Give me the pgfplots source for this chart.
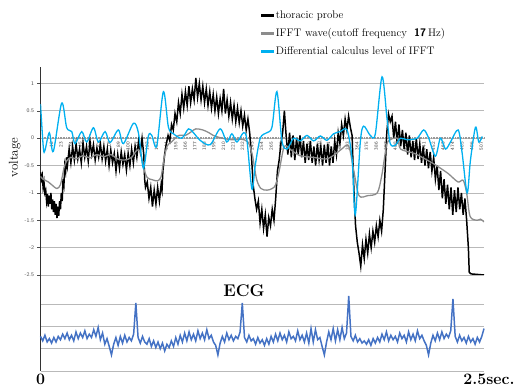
\documentclass[border=0pt]{standalone}
\usepackage{pgfplots}
\pgfplotsset{compat=1.18}
\definecolor{cyanline}{RGB}{0,176,240}
\definecolor{grayline}{RGB}{140,140,140}
\definecolor{gridgray}{RGB}{185,185,185}
\definecolor{ecgblue}{RGB}{68,114,196}
\begin{document}
\begin{tikzpicture}
\path[use as bounding box] (0,0) rectangle (515bp,389bp);
\begin{axis}[
  at={(40.5bp,114bp)}, anchor=south west,
  scale only axis, width=443.5bp, height=208bp,
  xmin=1, xmax=512, ymin=-2.5, ymax=1.3,
  axis x line=middle, axis y line=left,
  axis line style={-},
  x axis line style={black!40, line width=2pt, dash pattern=on 0.8pt off 0.8pt},
  y axis line style={black!80, line width=0.6pt},
  xtick={1,12,...,507},
  ytick={-2.5,-2,...,1},
  ymajorgrids, grid style={gridgray, line width=0.6pt},
  major tick length=3bp,
  xtick style={draw=none},
  ytick style={black!70, line width=0.5pt},
  tick align=outside,
  /pgf/number format/assume math mode=true,
  /pgf/number format/1000 sep={},
  yticklabel style={font=\sffamily\fontsize{5.5}{6}\selectfont, text=black!70},
  xticklabel style={font=\sffamily\fontsize{5}{5.5}\selectfont, text=black!75, rotate=90, anchor=east, inner sep=1pt, yshift=-1.5bp},
  ylabel={voltage},
  ylabel style={at={(axis description cs:-0.058,0.565)}, anchor=center, font=\fontsize{13}{14}\selectfont},
  legend style={at={(axis description cs:0.491,1.29)}, anchor=north west, draw=none, fill=none, font=\fontsize{11}{13}\selectfont, row sep=4.5bp},
  legend cell align=left,
]
\addlegendimage{legend image code/.code={\fill[black] (0bp,-0.8bp) rectangle (12bp,0.8bp);}}
\addlegendentry{thoracic probe}
\addlegendimage{legend image code/.code={\fill[grayline] (0bp,-0.8bp) rectangle (12bp,0.8bp);}}
\addlegendentry{IFFT wave(cutoff frequency\ \ \textsf{\textbf{17}}\,Hz)}
\addlegendimage{legend image code/.code={\fill[cyanline] (0bp,-0.8bp) rectangle (12bp,0.8bp);}}
\addlegendentry{Differential calculus level of IFFT}
\addplot[black, line width=1.5pt, forget plot] coordinates {
(1,-0.62)(2,-0.75)(3,-0.68)(4,-0.9)(5,-0.8)(6,-1.0)(7,-0.95)(8,-1.15)(9,-1.02)(10,-1.25)(11,-1.05)(12,-1.2)(13,-1.0)(14,-1.3)(15,-1.12)(16,-1.35)(17,-1.15)(18,-1.4)(19,-1.2)(20,-1.46)(21,-1.25)(22,-1.42)(23,-1.15)(24,-1.3)(25,-1.0)(26,-1.15)(27,-0.75)(28,-0.85)(29,-0.5)(30,-0.6)(31,-0.35)(32,-0.5)
(34,-0.2)(36,-0.45)(38,-0.15)(40,-0.4)(42,-0.1)(44,-0.38)(46,-0.2)(48,-0.45)(50,-0.08)(52,-0.35)(54,-0.15)(56,-0.42)(58,-0.05)(60,-0.3)(62,-0.12)(64,-0.4)(66,-0.18)(68,-0.35)(70,-0.1)(72,-0.38)(74,-0.15)(76,-0.42)(78,-0.2)(80,-0.5)(82,-0.22)(84,-0.45)(86,-0.28)(88,-0.6)(90,-0.3)(92,-0.55)(94,-0.25)(96,-0.48)(98,-0.3)(100,-0.58)(102,-0.28)(104,-0.5)(106,-0.2)(108,-0.45)(110,-0.15)(112,-0.35)(114,-0.05)(116,-0.25)(118,0.0)
(120,-0.3)(121,-0.75)(122,-0.9)(124,-0.8)(126,-1.1)(128,-0.9)(130,-1.25)(132,-0.95)(134,-1.2)(136,-0.9)(138,-1.15)(140,-0.85)(141,-0.95)(142,-0.6)(144,-0.3)(146,-0.1)(148,0.05)(150,-0.05)(152,0.25)(154,0.15)(156,0.45)(158,0.3)(160,0.65)(162,0.45)(164,0.8)(166,0.55)(168,0.85)(170,0.6)(172,0.95)(174,0.65)(176,0.9)(178,0.7)(180,1.1)(182,0.75)(184,1.0)
(186,0.7)(188,0.95)(190,0.65)(192,0.9)(194,0.6)(196,0.85)(198,0.55)(200,0.8)(202,0.5)(204,0.75)(206,0.45)(208,0.72)(210,0.5)(212,0.9)(214,0.45)(216,0.7)(218,0.4)(220,0.65)(222,0.35)(224,0.6)(226,0.3)(228,0.55)(230,0.28)(232,0.5)(234,0.22)(236,0.42)(238,0.15)(240,0.35)(242,0.1)
(244,-0.3)(246,-0.85)(248,-1.1)(250,-1.3)(252,-1.15)(254,-1.55)(256,-1.3)(258,-1.65)(260,-1.4)(262,-1.8)(264,-1.45)(266,-1.6)(268,-1.3)(270,-1.5)(272,-1.1)(274,-0.6)(276,-0.4)(278,-0.1)(280,0.1)(282,0.5)(284,0.05)
(286,-0.3)(288,0.1)(290,-0.35)(292,0.05)(294,-0.4)(296,0.0)(298,-0.3)(300,0.05)(302,-0.35)(304,-0.05)(306,-0.45)(308,-0.1)(310,-0.4)(312,-0.05)(314,-0.45)(316,-0.15)(318,-0.5)(320,-0.1)(322,-0.4)(324,-0.15)(326,-0.5)(328,-0.12)(330,-0.45)(332,-0.1)(334,-0.5)(336,-0.15)(338,-0.45)(340,-0.05)(342,-0.3)(344,0.1)(346,-0.1)(348,0.25)(350,0.05)(352,0.35)(354,0.15)(356,0.4)(358,0.2)(360,0.05)
(362,-0.9)(364,-1.6)(366,-1.9)(368,-2.1)(370,-2.34)(372,-1.95)(374,-2.2)(376,-1.85)(378,-2.1)(380,-1.75)(382,-2.0)(384,-1.7)(386,-1.9)(388,-1.6)(390,-1.8)(392,-1.5)(394,-1.7)(396,-1.3)(398,-0.6)(400,0.1)(402,0.44)(404,0.3)
(406,0.4)(408,0.0)(410,0.3)(412,-0.1)(414,0.25)(416,-0.15)(418,0.15)(420,-0.2)(422,0.1)(424,-0.3)(426,0.05)(428,-0.35)(430,-0.05)(432,-0.4)(434,0.0)(436,-0.38)(438,-0.1)(440,-0.45)(442,-0.15)(444,-0.5)(446,-0.2)(448,-0.55)(450,-0.25)(452,-0.6)(454,-0.35)
(456,-0.75)(458,-0.5)(460,-0.95)(462,-0.6)(464,-1.1)(466,-0.75)(468,-1.2)(470,-0.85)(472,-1.3)(474,-0.9)(476,-1.4)(478,-0.95)(480,-1.35)(482,-0.9)(484,-1.3)(486,-1.0)(488,-1.4)(490,-1.1)(492,-1.5)(494,-2.0)(495,-2.45)(497,-2.48)(512,-2.5)
};
\addplot[grayline, line width=1.3pt, smooth, forget plot] coordinates {
(1,-0.7)(4,-0.75)(10,-0.8)(16,-0.88)(20,-0.92)(24,-0.85)(28,-0.55)(31,-0.42)(36,-0.35)(42,-0.38)(50,-0.32)(58,-0.36)(66,-0.3)(74,-0.34)(82,-0.3)(90,-0.38)(98,-0.4)(106,-0.35)(112,-0.22)(116,-0.25)(120,-0.55)(124,-0.72)(130,-0.76)(136,-0.78)(140,-0.7)(143,-0.4)(147,-0.14)(152,-0.07)(160,0.05)(168,0.05)(175,0.12)(180,0.17)(188,0.15)(195,0.1)(200,0.05)(210,0.0)(222,-0.03)(232,-0.02)(240,-0.07)(245,-0.3)(250,-0.75)(255,-0.92)(262,-0.95)(268,-0.92)(272,-0.85)(276,-0.6)(282,-0.15)(290,-0.22)(300,-0.32)(315,-0.35)(330,-0.38)(340,-0.3)(348,-0.2)(356,-0.14)(362,-0.6)(368,-1.05)(378,-1.05)(389,-1.0)(394,-0.7)(397,-0.4)(401,-0.07)(412,0.0)(416,-0.2)(432,-0.28)(451,-0.44)(460,-0.53)(471,-0.65)(482,-0.8)(488,-0.77)(492,-1.0)(496,-1.43)(504,-1.5)(508,-1.48)(512,-1.53)
};
\addplot[cyanline, line width=1.3pt, smooth, forget plot] coordinates {
(1,0.62)(4.3,-0.18)(6.2,-0.22)(11.2,0.1)(15.8,-0.24)(25.4,0.64)(31.2,0.19)(37,0.12)(40.8,-0.1)(48.5,0.12)(54.3,-0.07)(62,0.19)(67.7,-0.07)(75.4,0.12)(81.2,-0.08)(90.7,0.15)(96.5,-0.1)(108,0.27)(113.8,0.1)(119.6,-0.55)(125.3,0.04)(129.2,0.05)(135,-0.14)(142.6,0.85)(148.4,0.2)(154.2,0.08)(163.8,0.0)(171.5,0.17)(177.2,0.1)(185,-0.04)(196.5,-0.12)(208,0.17)(215.7,-0.07)(221.5,0.08)(227.3,-0.07)(234.9,0.1)(238.8,-0.03)(244.6,-0.93)(248.4,-0.5)(254.2,0.0)(261.9,0.1)(267.7,0.2)(273.4,0.85)(279.2,-0.05)(285,-0.2)(292.6,0.0)(300.3,-0.05)(308,0.05)(315.7,-0.05)(323.4,0.04)(331,-0.04)(338.7,0.08)(346.4,0.12)(354.2,0.15)(360,-0.38)(363.7,-1.4)(369.5,-0.07)(373.3,0.22)(381,0.05)(386.8,0.08)(394.5,1.12)(400.3,0.35)(404,-0.1)(409.9,-0.13)(415.7,0.0)(423.4,-0.03)(434.9,0.0)(442.5,0.15)(448.3,0.0)(456,-0.33)(461.8,0.0)(467.6,-0.2)(473.4,-0.07)(482.2,0.15)(486.8,-0.27)(492.6,-1.0)(496.4,-0.4)(502.2,0.2)(506,-0.07)(509.9,0.03)
};
\end{axis}
\begin{axis}[
  at={(40.5bp,18bp)}, anchor=south west,
  scale only axis, width=443.5bp, height=96bp,
  xmin=0, xmax=2.5, ymin=0, ymax=4.3,
  axis x line*=bottom, axis y line*=left,
  axis line style={-},
  x axis line style={draw=none},
  y axis line style={black!80, line width=0.6pt},
  ytick={0,1,2,3}, yticklabels={},
  ymajorgrids, grid style={gridgray, line width=0.6pt},
  xtick={0}, xticklabels={0},
  extra x ticks={2.5}, extra x tick labels={2.5sec.},
  extra x tick style={xticklabel style={xshift=5bp}},
  tick style={draw=none},
  xticklabel style={font=\bfseries\fontsize{16}{18}\selectfont},
  clip=false,
]
\addplot[ecgblue, line width=1.5pt] coordinates {
(0,1.55)(0.0125,1.35)(0.025,1.6)(0.0375,1.3)(0.05,1.45)(0.0625,1.25)(0.075,1.5)(0.0875,1.3)(0.1,1.55)(0.1125,1.4)(0.125,1.65)(0.1375,1.45)(0.15,1.7)(0.1625,1.4)(0.175,1.6)(0.1875,1.35)(0.2,1.75)(0.2125,1.45)(0.225,1.7)(0.2375,1.5)(0.25,1.8)(0.2625,1.45)(0.275,1.65)(0.2875,1.5)(0.3,1.85)(0.3125,1.55)(0.325,1.95)(0.3375,1.4)(0.35,1.7)(0.3625,1.2)(0.375,1.45)(0.3875,1.1)(0.4,0.72)(0.4125,1.2)(0.425,1.5)(0.4375,1.15)(0.45,1.55)(0.4625,1.25)(0.475,1.6)(0.4875,1.3)(0.5,1.5)(0.5125,1.35)(0.525,1.65)(0.5375,3.05)(0.55,1.5)(0.5625,1.25)(0.575,1.55)(0.5875,1.3)(0.6,1.2)(0.6125,1.45)(0.625,1.1)(0.6375,1.35)(0.65,1.05)(0.6625,1.3)(0.675,1.0)(0.6875,1.25)(0.7,0.9)(0.7125,1.2)(0.725,1.05)(0.7375,1.35)(0.75,1.1)(0.7625,1.5)(0.775,1.2)(0.7875,1.6)(0.8,1.3)(0.8125,1.7)(0.825,1.35)(0.8375,1.75)(0.85,1.4)(0.8625,1.65)(0.875,1.35)(0.8875,1.8)(0.9,1.45)(0.9125,1.7)(0.925,1.4)(0.9375,1.85)(0.95,1.45)(0.9625,1.6)(0.975,1.3)(0.9875,1.15)(1.0,0.72)(1.0125,1.25)(1.025,1.55)(1.0375,1.3)(1.05,1.7)(1.0625,1.4)(1.075,1.6)(1.0875,1.35)(1.1,1.55)(1.1125,1.45)(1.125,1.75)(1.1375,3.05)(1.15,1.5)(1.1625,1.3)(1.175,1.6)(1.1875,1.35)(1.2,1.45)(1.2125,1.2)(1.225,1.5)(1.2375,1.25)(1.25,1.4)(1.2625,1.15)(1.275,1.45)(1.2875,1.2)(1.3,1.55)(1.3125,1.3)(1.325,1.65)(1.3375,1.35)(1.35,1.7)(1.3625,1.4)(1.375,1.6)(1.3875,1.3)(1.4,1.75)(1.4125,1.45)(1.425,1.55)(1.4375,1.35)(1.45,1.8)(1.4625,1.4)(1.475,1.6)(1.4875,1.3)(1.5,1.7)(1.5125,1.25)(1.525,1.9)(1.5375,1.3)(1.55,1.85)(1.5625,1.4)(1.575,1.5)(1.5875,1.1)(1.6,0.72)(1.6125,1.3)(1.625,1.75)(1.6375,1.4)(1.65,1.9)(1.6625,1.35)(1.675,1.85)(1.6875,1.4)(1.7,1.95)(1.7125,1.45)(1.725,1.7)(1.7375,3.36)(1.75,1.55)(1.7625,1.35)(1.775,1.6)(1.7875,1.3)(1.8,1.45)(1.8125,1.25)(1.825,1.35)(1.8375,1.2)(1.85,1.4)(1.8625,1.15)(1.875,1.45)(1.8875,1.25)(1.9,1.5)(1.9125,1.3)(1.925,1.65)(1.9375,1.4)(1.95,1.75)(1.9625,1.35)(1.975,1.6)(1.9875,1.4)(2.0,1.55)(2.0125,1.3)(2.025,1.7)(2.0375,1.45)(2.05,1.6)(2.0625,1.3)(2.075,1.75)(2.0875,1.4)(2.1,1.65)(2.1125,1.35)(2.125,1.8)(2.1375,1.45)(2.15,1.6)(2.1625,1.35)(2.175,1.15)(2.1875,0.72)(2.2,1.25)(2.2125,1.6)(2.225,1.35)(2.2375,1.7)(2.25,1.4)(2.2625,1.75)(2.275,1.45)(2.2875,1.65)(2.3,1.5)(2.3125,1.8)(2.325,3.23)(2.3375,1.55)(2.35,1.3)(2.3625,1.6)(2.375,1.35)(2.3875,1.5)(2.4,1.25)(2.4125,1.55)(2.425,1.3)(2.4375,1.45)(2.45,1.2)(2.4625,1.5)(2.475,1.3)(2.4875,1.55)(2.5,1.9)
};
\node[font=\bfseries\fontsize{17}{18}\selectfont] at (axis cs:1.147,3.59) {ECG};
\end{axis}
\end{tikzpicture}
\end{document}
